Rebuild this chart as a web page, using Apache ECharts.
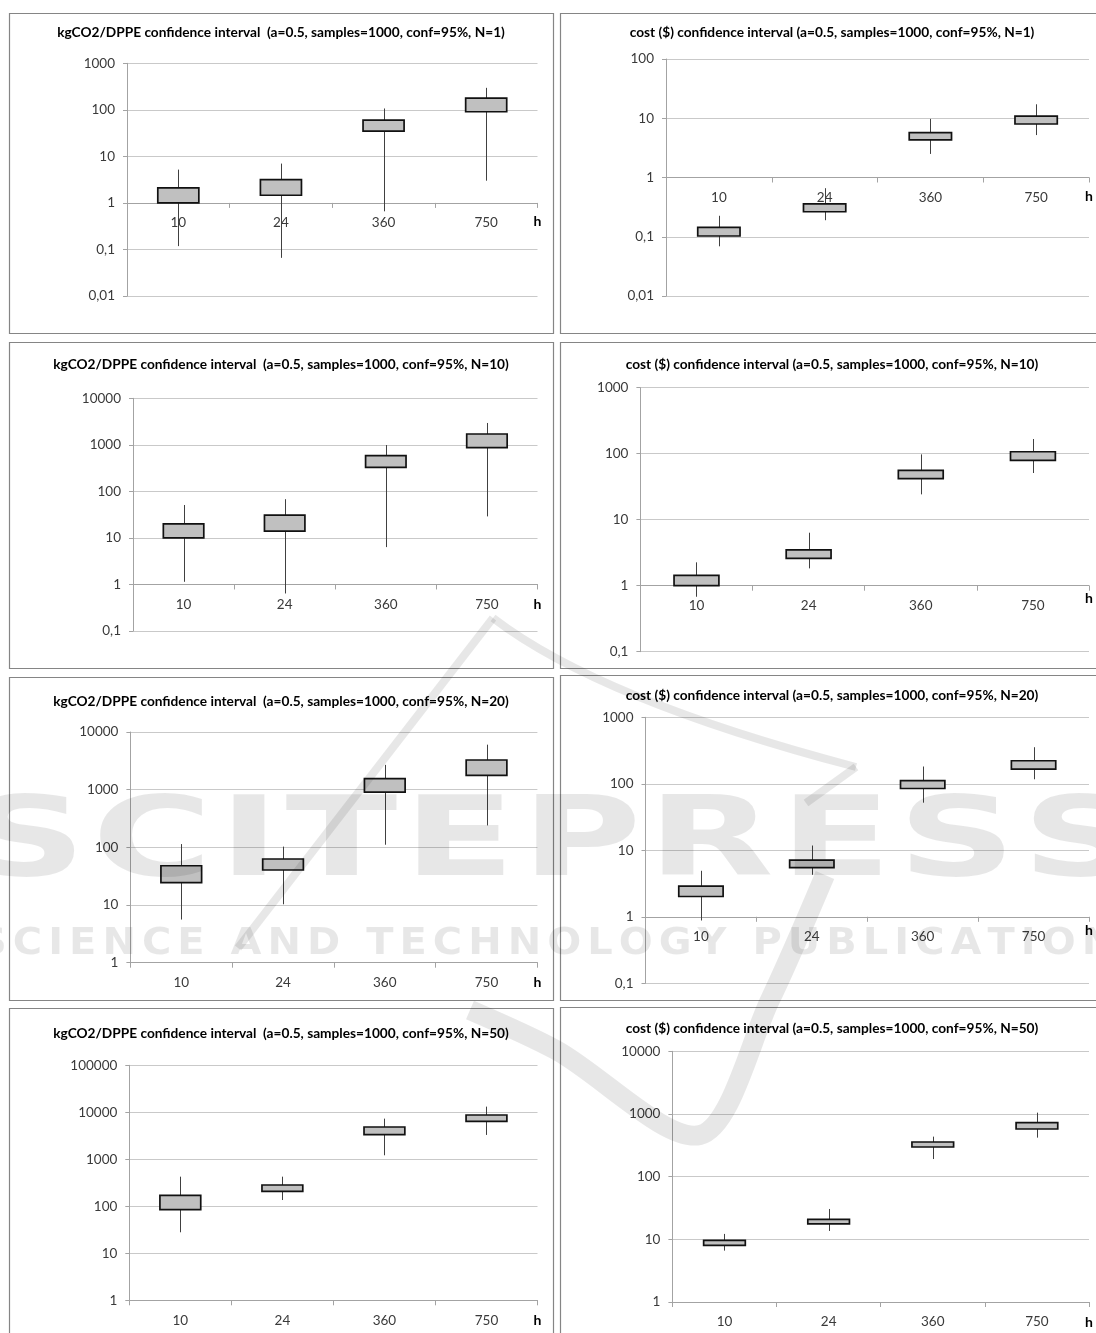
<!DOCTYPE html>
<html>
<head>
<meta charset="utf-8">
<title>Confidence intervals per operating hours</title>
<style>
  html, body { margin: 0; padding: 0; background: #ffffff; }
  #chart { width: 1096px; height: 1333px; }
</style>
<script src="https://cdn.jsdelivr.net/npm/echarts@6/dist/echarts.min.js"></script>
</head>
<body>
<div id="chart"></div>
<script>
// Operating hours on every horizontal axis
const hours = ['10', '24', '360', '750'];

// One row per hour: [whisker low, box low, box high, whisker high]
const co2N1 = [[0.118, 1.0, 2.1, 5.2], [0.066, 1.46, 3.16, 7.0], [0.66, 35, 60, 107], [3.0, 91, 178, 297]];
const costN1 = [[0.069, 0.103, 0.144, 0.226], [0.19, 0.264, 0.36, 0.66], [2.5, 4.3, 5.7, 9.75], [5.2, 8.0, 10.9, 17.2]];
const co2N10 = [[1.14, 10, 20, 51], [0.64, 14, 31, 68], [6.35, 328, 585, 990], [29, 869, 1710, 2950]];
const costN10 = [[0.68, 1.0, 1.43, 2.26], [1.83, 2.6, 3.5, 6.35], [24.2, 41.8, 55.9, 97.7], [51, 79, 107, 167]];
const co2N20 = [[5.6, 24.4, 48, 114], [10.3, 40.5, 62.8, 103], [111, 910, 1550, 2690], [240, 1770, 3270, 6030]];
const costN20 = [[0.88, 2.02, 2.89, 4.92], [4.28, 5.5, 7.1, 11.8], [52, 85, 112, 182], [117, 166, 222, 355]];
const co2N50 = [[28, 85, 171, 427], [136, 208, 284, 427], [1217, 3350, 4870, 7330], [3300, 6440, 8770, 13200]];
const costN50 = [[6.6, 8.0, 9.6, 12.2], [13.6, 17.6, 20.8, 30.5], [191, 297, 357, 435], [419, 576, 727, 1050]];

// Log axis ranges [min, max]
const co2N1Range = [0.01, 1000];
const costN1Range = [0.01, 100];
const co2N10Range = [0.1, 10000];
const costN10Range = [0.1, 1000];
const co2N20Range = [1, 10000];
const costN20Range = [0.1, 1000];
const co2N50Range = [1, 100000];
const costN50Range = [1, 10000];

// Panel titles
const titles = [
  'kgCO2/DPPE confidence interval  (a=0.5, samples=1000, conf=95%, N=1)',
  'cost ($) confidence interval (a=0.5, samples=1000, conf=95%, N=1)',
  'kgCO2/DPPE confidence interval  (a=0.5, samples=1000, conf=95%, N=10)',
  'cost ($) confidence interval (a=0.5, samples=1000, conf=95%, N=10)',
  'kgCO2/DPPE confidence interval  (a=0.5, samples=1000, conf=95%, N=20)',
  'cost ($) confidence interval (a=0.5, samples=1000, conf=95%, N=20)',
  'kgCO2/DPPE confidence interval  (a=0.5, samples=1000, conf=95%, N=50)',
  'cost ($) confidence interval (a=0.5, samples=1000, conf=95%, N=50)'
];

const FONT = 'Lato, "Open Sans", sans-serif';

// Layout of the eight panels (frame, plot area, title centre, drop of the "h" label)
const panels = [
  { data: co2N1,  range: co2N1Range,  frame: [9, 13, 544, 320],   grid: [127, 63.3, 410.5, 232.7],  tx: 281, ty: 33,   hDrop: 19 },
  { data: costN1, range: costN1Range, frame: [560, 13, 550, 320],  grid: [666, 59, 423, 237],       tx: 832, ty: 33,   hDrop: 19 },
  { data: co2N10, range: co2N10Range, frame: [9, 342, 544, 326],  grid: [133, 398.3, 404.5, 232.7], tx: 281, ty: 365,  hDrop: 20 },
  { data: costN10,range: costN10Range,frame: [560, 342, 550, 326], grid: [640.4, 387.7, 448.6, 264], tx: 832, ty: 365,  hDrop: 13 },
  { data: co2N20, range: co2N20Range, frame: [9, 677, 544, 323],  grid: [130.4, 732, 407, 230.7],   tx: 281, ty: 702,  hDrop: 20 },
  { data: costN20,range: costN20Range,frame: [560, 675, 550, 325], grid: [645.5, 717.3, 443.5, 266], tx: 832, ty: 696,  hDrop: 14 },
  { data: co2N50, range: co2N50Range, frame: [9, 1008, 544, 340], grid: [129.3, 1065.3, 408.2, 235], tx: 281, ty: 1034, hDrop: 20 },
  { data: costN50,range: costN50Range,frame: [560, 1007, 550, 340],grid: [672.4, 1051.3, 416.6, 250.7], tx: 832, ty: 1029, hDrop: 20 }
];

// Whisker behind a filled box, placed through the axes of the panel
function renderInterval(params, api) {
  const i = api.value(0);
  const lo = api.coord([i, api.value(1)]);
  const b0 = api.coord([i, api.value(2)]);
  const b1 = api.coord([i, api.value(3)]);
  const hi = api.coord([i, api.value(4)]);
  const w = api.size([1, 1])[0] * 0.4;
  const cx = Math.round(lo[0]) + 0.5;
  return {
    type: 'group',
    children: [
      { type: 'line', shape: { x1: cx, y1: lo[1], x2: cx, y2: hi[1] },
        style: { stroke: '#404040', lineWidth: 1 } },
      { type: 'rect', shape: { x: lo[0] - w / 2, y: b1[1], width: w, height: b0[1] - b1[1] },
        style: { fill: '#c0c0c0', stroke: '#111111', lineWidth: 1.7 } }
    ]
  };
}

const grids = [], xAxes = [], yAxes = [], series = [], titleList = [], graphics = [];

panels.forEach((p, k) => {
  const [gl, gt, gw, gh] = p.grid;
  grids.push({ left: gl, top: gt, width: gw, height: gh, containLabel: false, outerBoundsMode: 'none' });

  const lmin = Math.log10(p.range[0]), lmax = Math.log10(p.range[1]);
  const raise = (0 - lmin) / (lmax - lmin) * gh;   // category axis sits at value 1

  xAxes.push({
    gridIndex: k, type: 'category', data: hours, position: 'bottom', offset: -raise,
    boundaryGap: true,
    axisLine: { show: true, onZero: false, lineStyle: { color: '#a3a3a3', width: 1 } },
    axisTick: { show: true, alignWithLabel: false, length: 5, lineStyle: { color: '#a3a3a3' } },
    axisLabel: { show: true, interval: 0, margin: 13, color: '#3a3a3a', fontFamily: FONT, fontSize: 13.5 },
    splitLine: { show: false },
    name: 'h', nameLocation: 'end', nameGap: 0, nameMoveOverlap: false,
    nameTextStyle: { fontFamily: FONT, fontWeight: 'bold', fontSize: 14, color: '#000',
      align: 'center', verticalAlign: 'top', padding: [p.hDrop - 7, 0, 0, 0] }
  });

  yAxes.push({
    gridIndex: k, type: 'log', logBase: 10, min: p.range[0], max: p.range[1],
    axisLine: { show: true, lineStyle: { color: '#a3a3a3', width: 1 } },
    axisTick: { show: true, length: 4, lineStyle: { color: '#a3a3a3' } },
    axisLabel: { show: true, margin: 12, color: '#3a3a3a', fontFamily: FONT, fontSize: 13.5,
      formatter: v => String(v).replace('.', ',') },
    splitLine: { show: true, lineStyle: { color: '#c9c9c9', width: 1 } },
    minorTick: { show: false }, minorSplitLine: { show: false }
  });

  series.push({
    type: 'custom', xAxisIndex: k, yAxisIndex: k,
    data: p.data.map((row, i) => [i].concat(row)),
    encode: { x: 0, y: [1, 2, 3, 4] },
    renderItem: renderInterval,
    silent: true
  });

  titleList.push({
    text: titles[k], left: p.tx, top: p.ty, padding: 0,
    textAlign: 'center', textVerticalAlign: 'middle',
    textStyle: { fontFamily: FONT, fontSize: 13.7, fontWeight: 'bold', color: '#000' }
  });

  const [fx, fy, fw, fh] = p.frame;
  graphics.push({
    type: 'rect', silent: true, z: 0,
    shape: { x: fx + 0.5, y: fy + 0.5, width: fw, height: fh },
    style: { fill: 'none', stroke: '#858585', lineWidth: 1.2 }
  });
});

// Publisher watermark laid over the page
const WM = 'rgba(0,0,0,0.095)';
const measureCtx = document.createElement('canvas').getContext('2d');
function spacedText(text, fontSize, left, right, gap, yMid) {
  const font = 'bold ' + fontSize + 'px "DejaVu Sans"';
  measureCtx.font = font;
  const chars = Array.from(text);
  const widths = chars.map(c => measureCtx.measureText(c).width);
  const total = widths.reduce((a, b) => a + b, 0);
  const sx = (right - left - gap * (chars.length - 1)) / total;
  let x = left;
  chars.forEach((c, i) => {
    if (c !== ' ') {
      graphics.push({
        type: 'text', x: x, y: yMid, scaleX: sx, z: 100, silent: true,
        style: { text: c, font: font, fill: WM, align: 'left', verticalAlign: 'middle',
          textAlign: 'left', textVerticalAlign: 'middle' }
      });
    }
    x += widths[i] * sx + gap;
  });
}
spacedText('SCITEPRESS', 110, -32, 1140, 6, 846);
spacedText('SCIENCE AND TECHNOLOGY PUBLICATIONS', 38, -22, 1150, 6, 944);

graphics.push(
  { type: 'polyline', z: 100, silent: true,
    shape: { points: [[238, 948], [493, 618]] },
    style: { stroke: WM, lineWidth: 8, fill: 'none' } },
  { type: 'bezierCurve', z: 100, silent: true,
    shape: { x1: 493, y1: 618, x2: 856, y2: 767, cpx1: 600, cpy1: 700 },
    style: { stroke: WM, lineWidth: 8, fill: 'none' } },
  { type: 'polyline', z: 100, silent: true,
    shape: { points: [[856, 767], [806, 803]] },
    style: { stroke: WM, lineWidth: 8, fill: 'none' } },
  { type: 'polyline', z: 100, silent: true,
    shape: { points: [[470, 1010], [556, 1050], [700, 1135], [770, 1000], [825, 875]], smooth: 0.3 },
    style: { stroke: WM, lineWidth: 20, fill: 'none', lineJoin: 'round' } }
);

const chart = echarts.init(document.getElementById('chart'), null, { renderer: 'canvas' });
chart.setOption({
  animation: false,
  backgroundColor: '#ffffff',
  title: titleList,
  grid: grids,
  xAxis: xAxes,
  yAxis: yAxes,
  series: series,
  graphic: { elements: graphics }
});
</script>
</body>
</html>
